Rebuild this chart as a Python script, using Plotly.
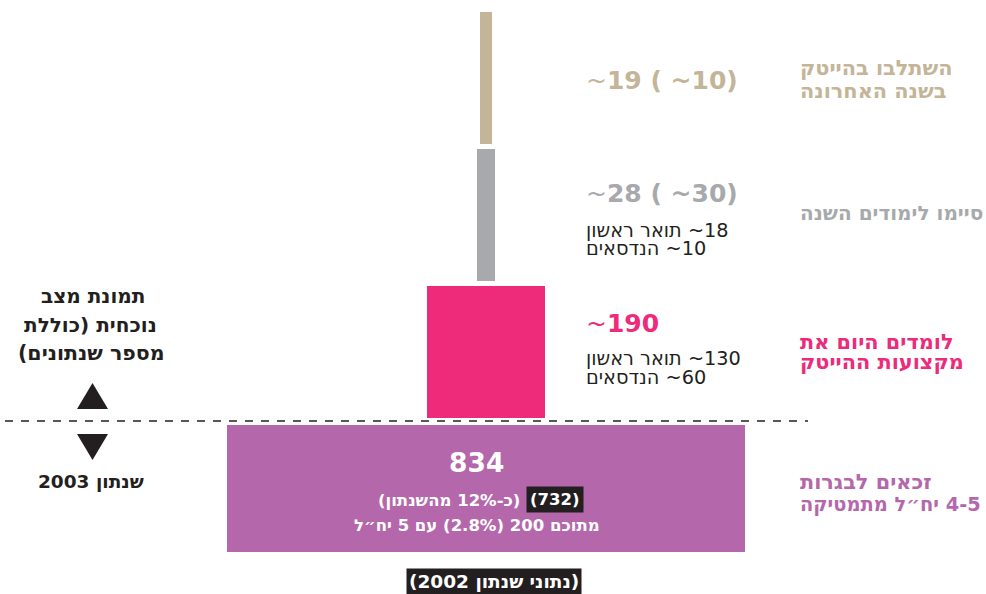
import plotly.graph_objects as go

# ---------------- data ----------------
categories = ["השתלבו בהייטק בשנה האחרונה", "סיימו לימודים השנה",
              "לומדים היום את מקצועות ההייטק", "זכאים לבגרות 4-5 יח״ל מתמטיקה"]
values = [19, 28, 190, 834]
value_labels = ["19 ( ~10)", "28 ( ~30)", "190", "834"]
sub_gray = ["18~ תואר ראשון", "10~ הנדסאים"]
sub_pink = ["130~ תואר ראשון", "60~ הנדסאים"]
bar_line2 = "(כ-12% מהשנתון)"
bar_highlight = "(732)"
bar_line3 = "מתוכם 200 (2.8%) עם 5 יח״ל"
left_lines = ["תמונת מצב", "נוכחית (כוללת", "מספר שנתונים)"]
left_bottom = "שנתון 2003"
footer = "(נתוני שנתון 2002)"

colors = ["#c4b598", "#a7a9ac", "#ee2a7b", "#b468ab"]
DARK = "#231f20"
W, H = 986, 594
FONT = "DejaVu Sans, sans-serif"
RLM = "\u200f"

# ---------------- layout geometry (pixels) ----------------
tops = [12, 149, 286, 425]
heights = [132, 132, 132, 127]
center_px = 486
k = 518 / 834  # px per unit

fig = go.Figure()
fig.add_trace(go.Bar(
    x=[0] * len(values), y=heights, base=tops, width=values,
    marker=dict(color=colors, line=dict(width=0)),
    hoverinfo="skip", showlegend=False,
))


def px(x):
    return x / W


def py(y):
    return 1 - y / H


ann = []


def add(text, x, y, size, color, bold=True, xanchor="left", bg=None, pad=1,
        rtl=True):
    if rtl:
        text = RLM + text + RLM
    t = f"<b>{text}</b>" if bold else text
    d = dict(text=t, x=px(x), y=py(y), xref="paper", yref="paper",
             xanchor=xanchor, yanchor="middle", showarrow=False,
             font=dict(family=FONT, size=size, color=color))
    if bg:
        d.update(bgcolor=bg, borderpad=pad)
    ann.append(d)


# right-side category labels
LS = 20.8
cat0 = categories[0].split(" ")
cat2 = categories[2].split(" ")
cat3 = categories[3].split(" ")
add(" ".join(cat0[:2]), 798, 68, LS, colors[0])
add(" ".join(cat0[2:]), 798, 91, LS, colors[0])
add(categories[1], 798, 213, 20, colors[1])
add(" ".join(cat2[:3]), 798, 342, LS, colors[2])
add(" ".join(cat2[3:]), 798, 362, LS, colors[2])
add(" ".join(cat3[:2]), 798, 482, LS, colors[3])
add(" ".join(cat3[2:]), 798, 504, 19.4, colors[3])

# value labels (thin wide tilde + bold digits)
NS = 25
for lab, yy, col in [(value_labels[0], 80, colors[0]),
                     (value_labels[1], 193, colors[1]),
                     (value_labels[2], 323, colors[2])]:
    ann.append(dict(text="~<b>" + lab + "</b>", x=px(584),
                    y=py(yy), xref="paper", yref="paper", xanchor="left",
                    yanchor="middle", showarrow=False,
                    font=dict(family=FONT, size=NS, color=col)))

# breakdown lines
SS = 19.3
for lines, ys in [(sub_gray, [230, 249]), (sub_pink, [358, 377])]:
    for s, yy in zip(lines, ys):
        add(s, 584, yy, SS, DARK, bold=False)

# inside purple bar
add(value_labels[3], 476, 463, 26.5, "white", xanchor="center", rtl=False)
add(bar_line2, 522, 500, 16.5, "white", xanchor="right")
add(bar_highlight, 554.5, 499, 16.5, "white", xanchor="center", bg=DARK,
    pad=3, rtl=False)
add(bar_line3, 477, 525, 16.5, "white", xanchor="center")

# left side
add(left_lines[0], 93, 296, 20, DARK, xanchor="center")
add(left_lines[1], 90, 325, 20, DARK, xanchor="center")
add(left_lines[2], 91, 353, 20.5, DARK, xanchor="center")
add(left_bottom, 91, 481, 18.5, DARK, xanchor="center")

# footer
add(footer, 494, 581, 18.5, "white", xanchor="center", bg=DARK, pad=2)


def tri(x0, x1, ytop, ybot, up=True):
    xm = (x0 + x1) / 2
    if up:
        p = f"M {px(x0)} {py(ybot)} L {px(x1)} {py(ybot)} L {px(xm)} {py(ytop)} Z"
    else:
        p = f"M {px(x0)} {py(ytop)} L {px(x1)} {py(ytop)} L {px(xm)} {py(ybot)} Z"
    return dict(type="path", xref="paper", yref="paper", path=p,
                fillcolor=DARK, line=dict(width=0))


fig.update_layout(
    width=W, height=H,
    margin=dict(l=0, r=0, t=0, b=0),
    paper_bgcolor="white", plot_bgcolor="white",
    xaxis=dict(range=[-center_px / k, (W - center_px) / k], visible=False,
               fixedrange=True),
    yaxis=dict(range=[H, 0], visible=False, fixedrange=True),
    bargap=0,
    annotations=ann,
    shapes=[dict(type="line", xref="paper", yref="paper",
                 x0=px(5), x1=px(808), y0=py(421), y1=py(421),
                 line=dict(color=DARK, width=1.5, dash="8px,8px")),
            tri(77, 108, 383, 409, up=True),
            tri(77, 108, 434, 460, up=False)],
)

fig.write_html("out.html",
               config={"displayModeBar": False},
               post_script="document.body.style.margin='0';"
                           "document.body.style.overflow='hidden';")
